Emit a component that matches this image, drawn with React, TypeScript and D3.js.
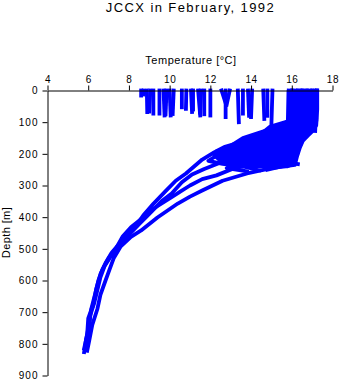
import { useEffect, useRef } from 'react'
import * as d3 from 'd3'

// temperature [°C] vs depth [m]
const tempTicks = [4, 6, 8, 10, 12, 14, 16, 18]
const depthTicks = [0, 100, 200, 300, 400, 500, 600, 700, 800, 900]

// deep casts: [temperature, depth]
const deepProfile1: [number, number][] = [
  [17.25, 0], [17.25, 60], [17.2, 110], [17.05, 126], [16.8, 142], [16.55, 158], [16.4, 180],
  [16.25, 210], [16.15, 235], [15.0, 245], [13.8, 262], [12.6, 285], [11.6, 316], [11.0, 335],
  [10.4, 357], [9.4, 401], [8.6, 442], [8.1, 462], [7.6, 492], [7.25, 530], [7.05, 565],
  [6.85, 600], [6.6, 645], [6.45, 690], [6.2, 740], [6.05, 790], [5.95, 822],
]
const deepProfile2: [number, number][] = [
  [16.9, 0], [16.95, 80], [16.8, 110], [16.1, 125], [16.4, 140], [15.6, 160], [16.0, 180],
  [15.1, 200], [15.7, 215], [14.2, 232], [13.2, 245], [12.3, 268], [11.6, 280], [11.0, 300],
  [10.5, 320], [10.0, 341], [9.2, 373], [8.7, 401], [8.1, 432], [7.7, 460], [7.4, 495],
  [7.0, 530], [6.7, 565], [6.5, 600], [6.35, 640], [6.15, 690], [6.05, 735], [5.9, 785], [5.8, 826],
]
const deepProfile3: [number, number][] = [
  [16.5, 0], [16.6, 90], [16.2, 110], [15.3, 125], [15.9, 140], [14.6, 160], [15.4, 175],
  [13.6, 190], [14.1, 205], [12.6, 225], [11.7, 248], [11.1, 265], [10.6, 290], [10.1, 325],
  [9.6, 350], [9.0, 390], [8.5, 422], [8.05, 452], [7.55, 482], [7.15, 512], [6.85, 545],
  [6.6, 580], [6.4, 625], [6.25, 675], [6.0, 720], [5.95, 770], [5.8, 815],
]
const deepProfile4: [number, number][] = [
  [16.2, 0], [16.25, 85], [15.6, 110], [14.8, 125], [13.6, 150], [13.0, 175], [12.2, 195],
  [11.6, 218], [11.2, 240], [10.8, 262], [10.3, 285], [9.8, 318], [9.2, 358], [8.7, 395],
  [8.2, 440], [7.8, 468], [7.45, 498], [7.1, 525], [6.8, 555], [6.6, 590], [6.45, 630],
  [6.3, 670], [6.1, 710], [6.05, 750], [5.9, 790],
]
// casts that stop around 250 m
const midProfile1: [number, number][] = [
  [16.7, 0], [16.8, 100], [16.3, 118], [15.0, 128], [14.6, 145], [15.4, 160], [14.0, 178],
  [13.0, 195], [12.2, 210], [11.9, 222], [12.6, 232], [13.6, 240], [14.4, 252],
]
const midProfile2: [number, number][] = [
  [17.1, 0], [17.2, 90], [17.0, 120], [16.5, 140], [15.8, 165], [16.0, 185], [15.2, 200],
  [14.4, 215], [13.2, 230], [12.8, 245], [13.8, 255],
]
const midProfile3: [number, number][] = [
  [16.4, 0], [16.5, 100], [15.6, 115], [14.9, 118], [15.4, 135], [13.8, 160], [14.6, 175],
  [13.4, 200], [15.0, 212], [15.8, 228], [15.5, 240], [14.8, 250],
]
const midProfile4: [number, number][] = [
  [16.0, 0], [16.0, 95], [15.2, 112], [15.6, 130], [14.0, 155], [14.9, 180], [14.5, 210],
  [15.6, 225], [16.3, 232],
]

// range covered by the densely sampled casts: [depth, min temperature, max temperature]
const denseBand: [number, number, number][] = [
  [0, 15.8, 17.25], [95, 15.8, 17.25], [112, 14.9, 17.2], [128, 14.6, 17.05], [145, 14.0, 16.75],
  [160, 13.5, 16.55], [175, 12.7, 16.45], [190, 12.25, 16.35], [205, 12.15, 16.3],
  [220, 12.4, 16.2], [232, 13.0, 16.15], [242, 13.7, 15.8],
]

// shallow casts: [surface temperature, bottom temperature, bottom depth]
const shallowCasts: [number, number, number][] = [
  [8.6, 8.6, 16], [8.72, 8.7, 12], [8.88, 8.9, 68], [9.05, 9.0, 66], [9.2, 9.2, 73],
  [9.5, 9.5, 73], [9.7, 9.75, 79], [9.85, 9.8, 75], [10.0, 10.05, 79], [10.2, 10.15, 74],
  [10.6, 10.6, 53], [10.82, 10.8, 58], [11.05, 11.1, 68], [11.15, 11.15, 60], [11.4, 11.5, 79],
  [11.55, 11.5, 70], [11.7, 11.7, 75], [12.0, 12.0, 79], [12.55, 12.75, 40], [12.75, 12.75, 84],
  [12.95, 12.8, 45], [13.35, 13.4, 100], [13.6, 13.6, 73], [13.85, 13.9, 80], [14.05, 14.0, 84],
  [14.6, 14.65, 90], [14.8, 14.8, 80], [15.05, 15.0, 104], [15.85, 15.8, 110], [16.05, 16.0, 115],
  [16.3, 16.25, 120], [16.55, 16.5, 120], [16.75, 16.8, 125], [17.0, 17.0, 125], [17.22, 17.15, 128],
]

const profiles = [
  deepProfile1, deepProfile2, deepProfile3, deepProfile4,
  midProfile1, midProfile2, midProfile3, midProfile4,
]

const FONT = '"Liberation Sans", Arial, Helvetica, sans-serif'
const BLUE = '#0000ff'

export default function App() {
  const svgRef = useRef<SVGSVGElement>(null)

  useEffect(() => {
    const svg = svgRef.current
    if (!svg) return
    const width = 341
    const height = 384

    d3.select(svg).selectAll('*').remove()
    const root = d3.select(svg).attr('width', width).attr('height', height)

    const x = d3.scaleLinear().domain([4, 18]).range([47.5, 332.5])
    const y = d3.scaleLinear().domain([0, 900]).range([90.5, 375.5])

    // ── Data ──────────────────────────────────────────────────────
    const line = d3
      .line<[number, number]>()
      .x((d) => x(d[0]))
      .y((d) => y(d[1]))

    const band = d3
      .area<[number, number, number]>()
      .y((d) => y(d[0]))
      .x0((d) => x(d[1]))
      .x1((d) => x(d[2]))

    const data = root.append('g')

    data
      .append('path')
      .attr('d', band(denseBand))
      .attr('fill', BLUE)
      .attr('stroke', BLUE)
      .attr('stroke-width', 2)
      .attr('stroke-linejoin', 'round')

    data
      .selectAll('path.shallow')
      .data(shallowCasts)
      .join('path')
      .attr('class', 'shallow')
      .attr('d', (d) => line([[d[0], 0], [d[1], d[2]]]))
      .attr('fill', 'none')
      .attr('stroke', BLUE)
      .attr('stroke-width', 3.8)
      .attr('stroke-linecap', 'square')

    data
      .selectAll('path.cast')
      .data(profiles)
      .join('path')
      .attr('class', 'cast')
      .attr('d', (d) => line(d))
      .attr('fill', 'none')
      .attr('stroke', BLUE)
      .attr('stroke-width', 3.8)
      .attr('stroke-linejoin', 'round')
      .attr('stroke-linecap', 'square')

    // ── Axes ──────────────────────────────────────────────────────
    const xAxis = d3
      .axisTop(x)
      .tickValues(tempTicks)
      .tickSize(5)
      .tickSizeOuter(0)
      .tickPadding(3)
      .tickFormat((d) => String(d))

    root
      .append('g')
      .attr('transform', `translate(0,${y(0)})`)
      .call(xAxis)
      .call((g) => g.select('.domain').attr('stroke', '#000'))
      .call((g) => g.selectAll('line').attr('stroke', '#000'))
      .call((g) =>
        g
          .selectAll('text')
          .attr('fill', '#000')
          .attr('font-family', FONT)
          .attr('font-size', '10px')
          .attr('letter-spacing', '0.6px')
      )

    const yAxis = d3
      .axisLeft(y)
      .tickValues(depthTicks)
      .tickSize(5)
      .tickSizeOuter(0)
      .tickPadding(4)
      .tickFormat((d) => String(d))

    root
      .append('g')
      .attr('transform', `translate(${x(4)},0)`)
      .call(yAxis)
      .call((g) => g.select('.domain').attr('stroke', '#000'))
      .call((g) => g.selectAll('line').attr('stroke', '#000'))
      .call((g) =>
        g
          .selectAll('text')
          .attr('fill', '#000')
          .attr('font-family', FONT)
          .attr('font-size', '10px')
          .attr('letter-spacing', '1px')
      )

    // ── Labels ────────────────────────────────────────────────────
    root
      .append('text')
      .attr('x', 191)
      .attr('y', 64)
      .attr('text-anchor', 'middle')
      .attr('font-family', FONT)
      .attr('font-size', '11px')
      .attr('letter-spacing', '0.5px')
      .attr('fill', '#000')
      .text('Temperature [°C]')

    root
      .append('text')
      .attr('transform', 'rotate(-90)')
      .attr('x', -232.5)
      .attr('y', 10)
      .attr('text-anchor', 'middle')
      .attr('font-family', FONT)
      .attr('font-size', '11px')
      .attr('letter-spacing', '0.4px')
      .attr('fill', '#000')
      .text('Depth [m]')

    root
      .append('text')
      .attr('x', 190.5)
      .attr('y', 12)
      .attr('text-anchor', 'middle')
      .attr('font-family', FONT)
      .attr('font-size', '13px')
      .attr('letter-spacing', '1.4px')
      .attr('fill', '#000')
      .text('JCCX in February, 1992')
  }, [])

  return (
    <svg
      ref={svgRef}
      style={{ position: 'absolute', left: 0, top: 0, display: 'block', background: '#fff' }}
    />
  )
}
